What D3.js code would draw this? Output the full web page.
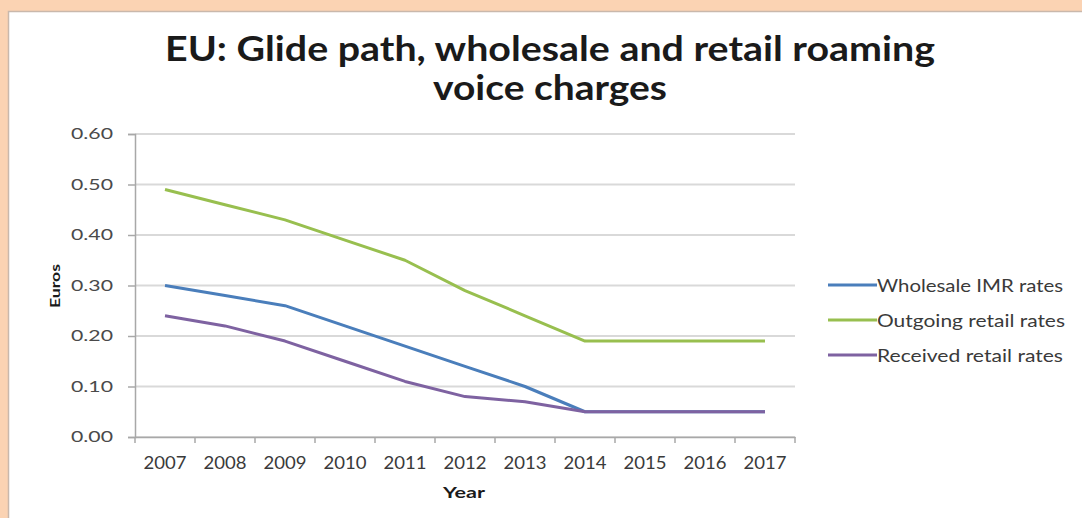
<!DOCTYPE html>
<html><head><meta charset="utf-8">
<script src="https://cdn.jsdelivr.net/npm/d3@7"></script>
<style>
html,body{margin:0;padding:0;background:#fbd3b3;}
svg{display:block;}
</style></head>
<body>
<svg id="chart" width="1082" height="518"></svg>
<script>
const years = ["2007","2008","2009","2010","2011","2012","2013","2014","2015","2016","2017"];
const wholesaleIMR = [0.30,0.28,0.26,0.22,0.18,0.14,0.10,0.05,0.05,0.05,0.05];
const outgoingRetail = [0.49,0.46,0.43,0.39,0.35,0.29,0.24,0.19,0.19,0.19,0.19];
const receivedRetail = [0.24,0.22,0.19,0.15,0.11,0.08,0.07,0.05,0.05,0.05,0.05];
const seriesNames = ["Wholesale IMR rates","Outgoing retail rates","Received retail rates"];
const seriesColors = ["#4a7ebb","#98bf4f","#7e62a1"];
const yTicks = [0,0.1,0.2,0.3,0.4,0.5,0.6];

const series = [wholesaleIMR, outgoingRetail, receivedRetail].map((v,i)=>({name:seriesNames[i], color:seriesColors[i], values:v}));

const svg = d3.select("#chart");
// panel
svg.append("rect").attr("x",0).attr("y",0).attr("width",1082).attr("height",518).attr("fill","#fbd3b3");
svg.append("rect").attr("x",8.5).attr("y",11.5).attr("width",1080).attr("height",520).attr("fill","#ffffff").attr("stroke","#c9b8ac").attr("stroke-width",1.5);

const font = "Lato, 'Open Sans', sans-serif";
function stretch(sel, w){ sel.attr("textLength", w).attr("lengthAdjust","spacingAndGlyphs"); }

// title
const title = svg.append("text").attr("text-anchor","middle").attr("font-family",font).attr("font-weight","bold").attr("font-size",34).attr("fill","#1a1a1a");
title.append("tspan").attr("x",550).attr("y",61).text("EU: Glide path, wholesale and retail roaming").call(stretch,770);
title.append("tspan").attr("x",550).attr("y",100).text("voice charges").call(stretch,234);

const x = d3.scaleBand().domain(years).range([135,795]);
const y = d3.scaleLinear().domain([0,0.6]).range([437,134]);

// gridlines
svg.append("g").selectAll("line").data(yTicks).join("line")
  .attr("x1",135).attr("x2",795).attr("y1",d=>y(d)).attr("y2",d=>y(d))
  .attr("stroke","#d9d9d9").attr("stroke-width",2);

// y axis
const yAxis = svg.append("g").attr("transform","translate(135,0)")
  .call(d3.axisLeft(y).tickValues(yTicks).tickFormat(d3.format(".2f")).tickSize(7).tickPadding(15));
yAxis.select(".domain").attr("stroke","#a8a8a8").attr("stroke-width",1.5);
yAxis.selectAll(".tick line").attr("stroke","#a8a8a8").attr("stroke-width",1.5);
yAxis.selectAll("text").attr("font-family",font).attr("font-size",14.5).attr("fill","#4a4a4a").call(stretch,42);

// x axis
const xAxis = svg.append("g").attr("transform","translate(0,437)")
  .call(d3.axisBottom(x).tickSize(0).tickPadding(20));
xAxis.select(".domain").attr("stroke","#a8a8a8").attr("stroke-width",1.5);
xAxis.selectAll("text").attr("font-family",font).attr("font-size",17.5).attr("fill","#3a3a3a").call(stretch,43);
// boundary ticks
const bounds = years.map(d=>x(d)).concat([x.range()[1]]);
svg.append("g").selectAll("line").data(bounds).join("line")
  .attr("x1",d=>d).attr("x2",d=>d).attr("y1",437).attr("y2",443)
  .attr("stroke","#a8a8a8").attr("stroke-width",1.5);

// axis titles
svg.append("text").attr("x",464).attr("y",498).attr("text-anchor","middle").attr("font-family",font).attr("font-weight","bold").attr("font-size",16).attr("fill","#1a1a1a").text("Year").call(stretch,42);
svg.append("text").attr("transform","translate(60,286) rotate(-90)").attr("text-anchor","middle").attr("font-family",font).attr("font-weight","bold").attr("font-size",14).attr("fill","#1a1a1a").text("Euros").call(stretch,44);

// lines
const line = d3.line().x((d,i)=>x(years[i])+x.bandwidth()/2).y(d=>y(d));
svg.append("g").selectAll("path").data(series).join("path")
  .attr("d",d=>line(d.values)).attr("fill","none").attr("stroke",d=>d.color).attr("stroke-width",3).attr("stroke-linejoin","round");

// legend
const legendTextW = [186,188,186];
const leg = svg.append("g").selectAll("g").data(series).join("g")
  .attr("transform",(d,i)=>`translate(828,${285+i*35})`);
leg.append("line").attr("x1",0).attr("x2",49).attr("y1",0).attr("y2",0).attr("stroke",d=>d.color).attr("stroke-width",3);
leg.append("text").attr("x",49).attr("y",6.5).attr("font-family",font).attr("font-size",18).attr("fill","#3a3a3a").text(d=>d.name)
  .each(function(d,i){ d3.select(this).call(stretch, legendTextW[i]); });
</script>
</body></html>
